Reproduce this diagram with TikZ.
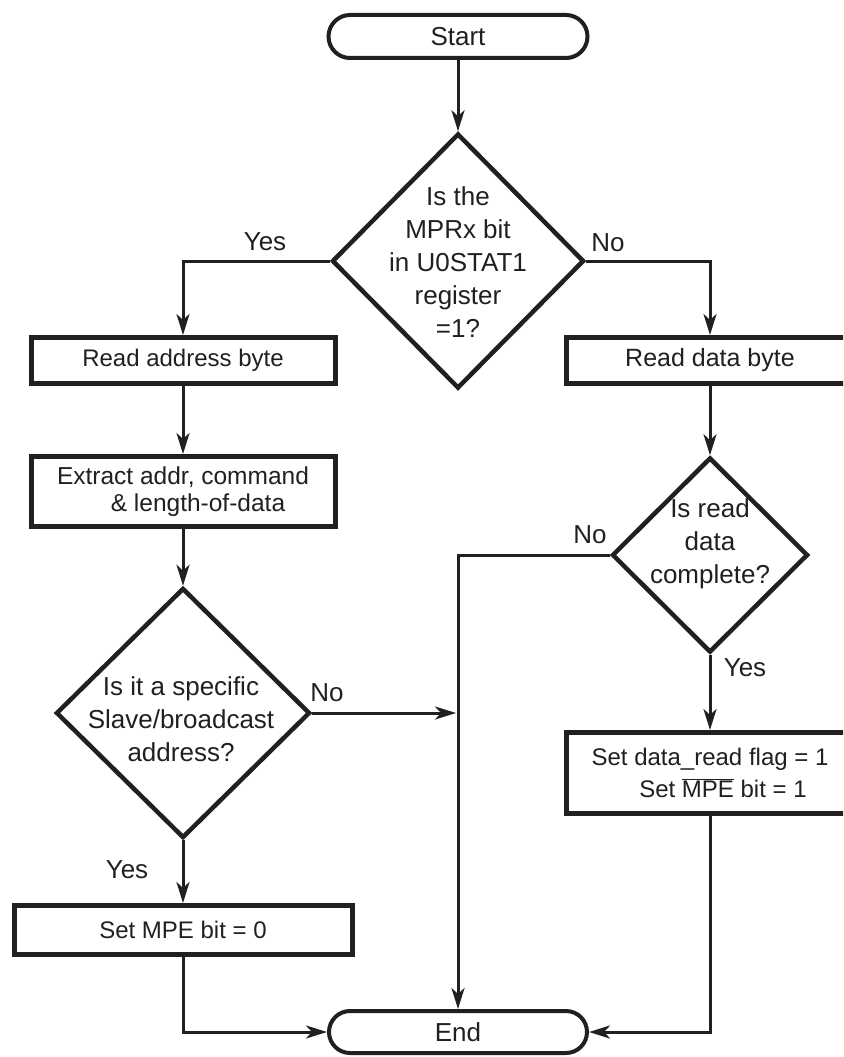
\documentclass[tikz,border=0pt]{standalone}
\usepackage{fontspec}
\setmainfont{Liberation Sans}
\usetikzlibrary{arrows.meta,shapes.geometric,shapes.misc}
\definecolor{ink}{HTML}{231F20}
\newcommand{\barred}[1]{$\overline{\hbox{#1}}$}

\begin{document}
\begin{tikzpicture}[
        x=1pt, y=-1pt,
        color=ink,
        >={Stealth[length=21pt, width=13pt, inset=6pt]},
        font=\fontsize{26}{33}\selectfont,
        line/.style={line width=3pt},
        terminal/.style={rounded rectangle, draw, line width=4pt, minimum width=259pt, minimum height=43pt, inner sep=0pt},
        process/.style={rectangle, draw, line width=5pt, fill=white, align=center, inner sep=0pt, font=\fontsize{24}{30}\selectfont},
        decision/.style={diamond, draw, line width=4.5pt, inner sep=0pt},
        question/.style={align=center, inner sep=0pt},
        tag/.style={inner sep=0pt}
    ]

    % Rahmen
    \useasboundingbox (0,0) rectangle (843,1057);
    \clip (0,0) rectangle (843,1057);

    % Start / End
    \node[terminal] (start) at (458,36.5) {Start};
    \node[terminal, minimum width=258pt, minimum height=42pt] (end) at (458,1032) {End};

    % Entscheidungen
    \node[decision, minimum width=252pt, minimum height=255pt] (d1) at (458,261) {};
    \node[question] (q1) at (458,262) {Is the\\MPRx bit\\in U0STAT1\\register\\=1?};

    \node[decision, minimum width=254pt, minimum height=250pt] (d2) at (183,713) {};
    \node[question] (q2) at (181,719) {Is it a specific\\Slave/broadcast\\address?};

    \node[decision, minimum width=196pt, minimum height=195pt] (d3) at (710,555) {};
    \node[question] (q3) at (710,544) {Is read\\data\\complete?};

    % Linke Seite
    \node[process, minimum width=304pt, minimum height=46pt] (rab) at (183,360.5) {Read address byte};
    \node[process, minimum width=304pt, minimum height=70pt, font=\fontsize{24.5}{27}\selectfont] (ext) at (183,491.5)
        {Extract addr, command\\\hspace*{30pt}\& length-of-data};
    \node[process, minimum width=338pt, minimum height=49pt] (smpe) at (183,930) {Set MPE bit = 0};

    % Rechte Seite
    \node[process, minimum width=287pt, minimum height=46pt, font=\fontsize{25}{30}\selectfont] (rdb) at (710,360.5) {Read data byte};
    \node[process, minimum width=287pt, minimum height=81pt, font=\fontsize{24}{32}\selectfont] (sdr) at (710,773)
        {Set data\_read flag = 1\\\hspace*{26pt}Set \barred{MPE} bit = 1};

    \coordinate (join) at (456,713);

    % Verbindungen
    \draw[line, ->] (start.south) -- (d1.north);
    \draw[line, ->] (d1.west) -| (rab.north);
    \draw[line, ->] (d1.east) -| (rdb.north);
    \draw[line, ->] (rab.south) -- (ext.north);
    \draw[line, ->] (ext.south) -- (d2.north);
    \draw[line, ->] (d2.east) -- (join);
    \draw[line, ->] (d2.south) -- (smpe.north);
    \draw[line, ->] (rdb.south) -- (d3.north);
    \draw[line, ->] (d3.west) -| (end.north);
    \draw[line, ->] (d3.south) -- (sdr.north);
    \draw[line, ->] (smpe.south) |- (end.west);
    \draw[line, ->] (sdr.south) |- (end.east);

    % Beschriftungen
    \node[tag] (yes1) at (265,242) {Yes};
    \node[tag] (no1) at (608,243) {No};
    \node[tag] (no2) at (327,693) {No};
    \node[tag] (yes2) at (127,870) {Yes};
    \node[tag] (no3) at (590,535) {No};
    \node[tag] (yes3) at (745,668) {Yes};

\end{tikzpicture}
\end{document}
